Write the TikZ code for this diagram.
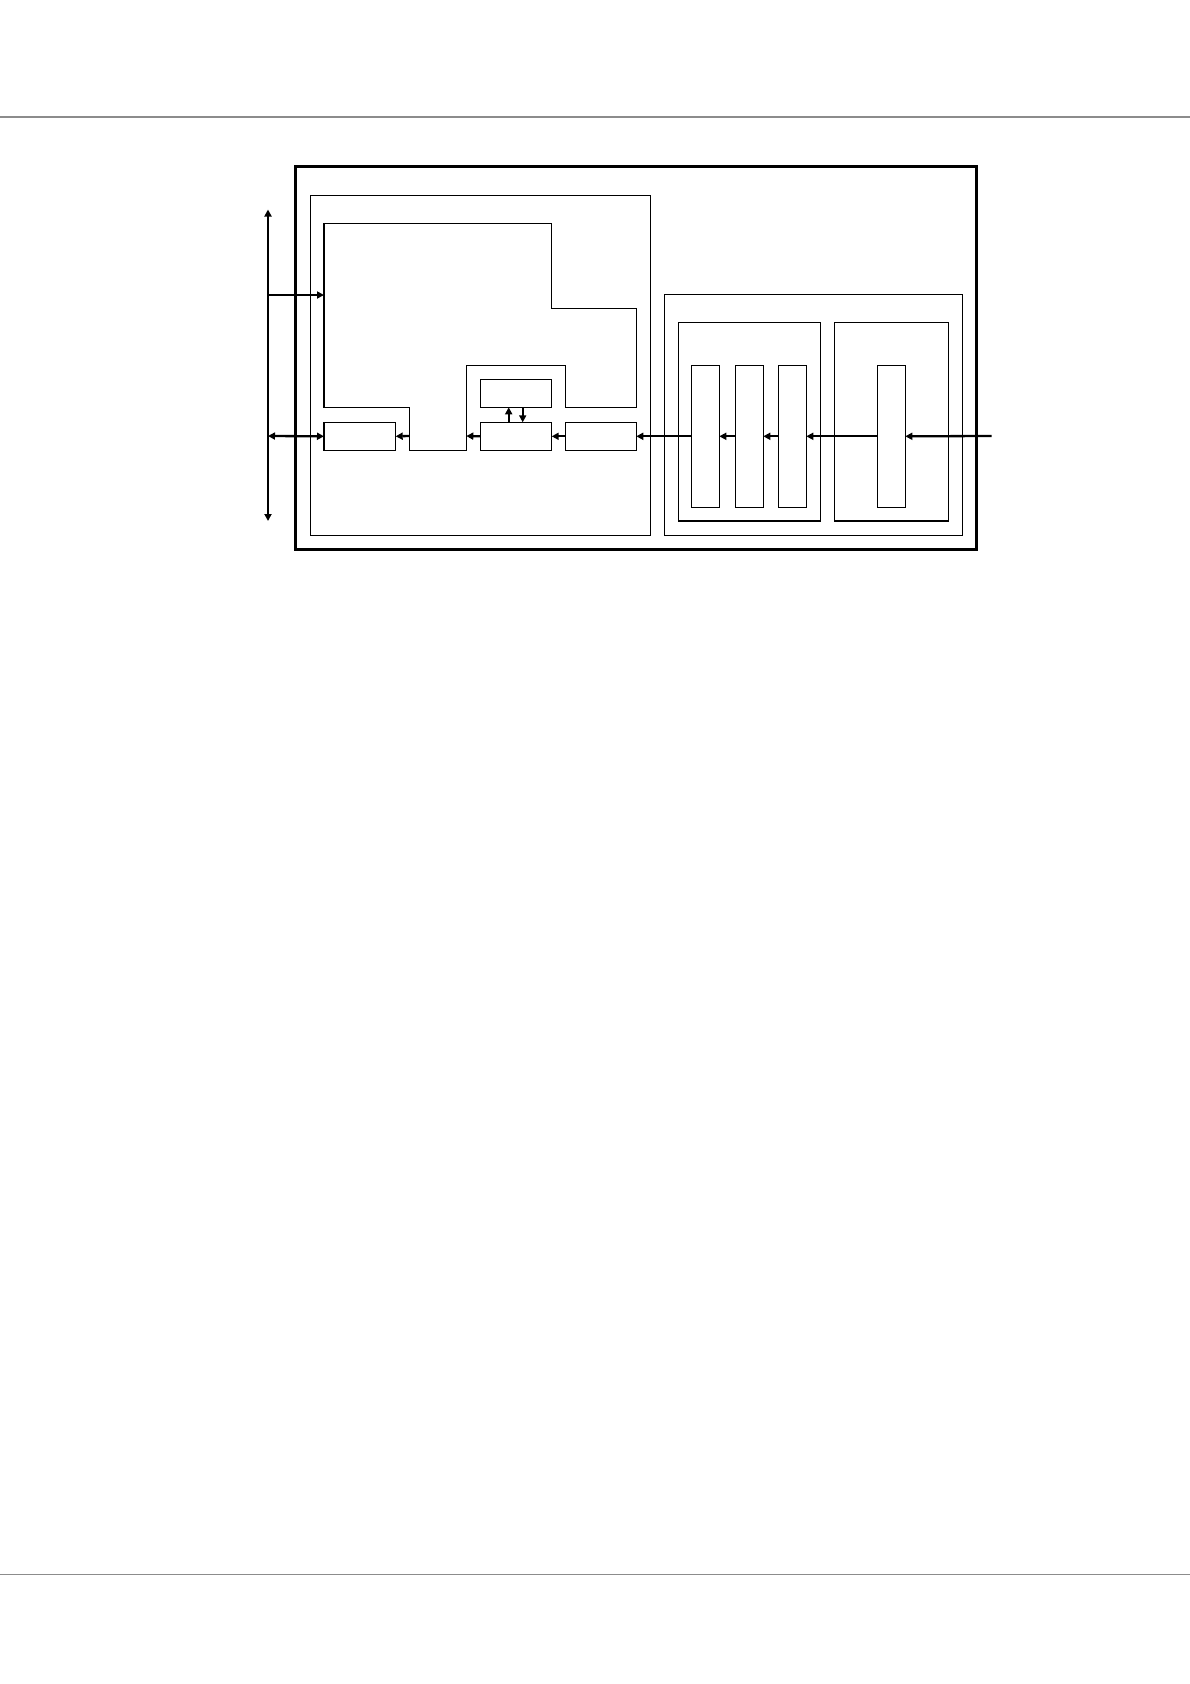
\documentclass[tikz,border=0pt]{standalone}
\usetikzlibrary{arrows.meta}
\begin{document}
\begin{tikzpicture}[x=1pt,y=-1pt,
  thinbox/.style={draw=black,line width=1.2pt,inner sep=0pt,outer sep=0pt,anchor=north west},
  thickbox/.style={draw=black,line width=2.8pt,inner sep=0pt,outer sep=0pt,anchor=north west},
  conn/.style={line width=2.3pt,-{Triangle[length=7pt,width=7pt]}},
  bconn/.style={line width=2.3pt,{Triangle[length=7pt,width=7pt]}-{Triangle[length=7pt,width=7pt]}},
  rule/.style={draw=black!45,line width=1.4pt}]
\fill[white] (0,0) rectangle (1190,1684);
\useasboundingbox (0,0) rectangle (1190,1684);
% page rules
\coordinate (tl) at (0,117); \coordinate (tr) at (1190,117);
\coordinate (bl) at (0,1574.3); \coordinate (br) at (1190,1574.3);
\draw[rule] (tl) -- (tr);
\draw[rule] (bl) -- (br);
% boxes
\node[thickbox,minimum width=681pt,minimum height=382.6pt] (outer) at (295.7,166.7) {};
\node[thinbox,minimum width=340pt,minimum height=339.6pt] (A) at (310.3,195.7) {};
\node[thinbox,minimum width=298pt,minimum height=241pt] (B) at (664.3,294.3) {};
\node[thinbox,minimum width=142pt,minimum height=198.7pt] (B1) at (678.3,322.3) {};
\node[thinbox,minimum width=114pt,minimum height=198.7pt] (B2) at (834.3,322.3) {};
\node[thinbox,minimum width=28pt,minimum height=142pt] (c1) at (691.3,365.3) {};
\node[thinbox,minimum width=28pt,minimum height=142pt] (c2) at (735.3,365.3) {};
\node[thinbox,minimum width=28pt,minimum height=142pt] (c3) at (778.3,365.3) {};
\node[thinbox,minimum width=28pt,minimum height=142pt] (c4) at (877.3,365.3) {};
\node[thinbox,minimum width=71.4pt,minimum height=28pt] (sm) at (480.3,379.3) {};
\node[thinbox,minimum width=71.7pt,minimum height=28pt] (r1) at (324,422.3) {};
\node[thinbox,minimum width=71.4pt,minimum height=28pt] (r2) at (480.3,422.3) {};
\node[thinbox,minimum width=71pt,minimum height=28pt] (r3) at (565.3,422.3) {};
% polygon block
\coordinate (p1) at (324,223.3);
\coordinate (p2) at (551.7,223.3);
\coordinate (p3) at (551.7,308.3);
\coordinate (p4) at (636.3,308.3);
\coordinate (p5) at (636.3,407.3);
\coordinate (p6) at (565.3,407.3);
\coordinate (p7) at (565.3,365.3);
\coordinate (p8) at (466.3,365.3);
\coordinate (p9) at (466.3,450.3);
\coordinate (p10) at (409.7,450.3);
\coordinate (p11) at (409.7,407.3);
\coordinate (p12) at (324,407.3);
\draw[line width=1.2pt] (p1) -- (p2) -- (p3) -- (p4) -- (p5) -- (p6) -- (p7) -- (p8) -- (p9) -- (p10) -- (p11) -- (p12) -- cycle;
\coordinate (pin) at (324,295);
\coordinate (nR) at (409.7,436);
\coordinate (nL) at (466.3,436);
% bus
\coordinate (bustop) at (268,209.5);
\coordinate (busbot) at (268,521);
\coordinate (busA) at (268,295);
\coordinate (busB) at (268,436);
\coordinate (ext) at (991.7,436);
\draw[bconn] (busbot) -- (bustop);
\draw[conn] (busA) -- (pin);
\draw[bconn] (busB) -- (r1.west);
\draw[conn] (nR) -- (r1.east);
\draw[conn] (r2.west) -- (nL);
\draw[conn] (r3.west) -- (r2.east);
\draw[conn] (c1.west) -- (r3.east);
\draw[conn] (c2.west) -- (c1.east);
\draw[conn] (c3.west) -- (c2.east);
\draw[conn] (c4.west) -- (c3.east);
\draw[conn] (ext) -- (c4.east);
% vertical arrows between sm and r2
\draw[conn] (r2.north -| 508.7,0) -- (sm.south -| 508.7,0);
\draw[conn] (sm.south -| 522.7,0) -- (r2.north -| 522.7,0);
\end{tikzpicture}
\end{document}
